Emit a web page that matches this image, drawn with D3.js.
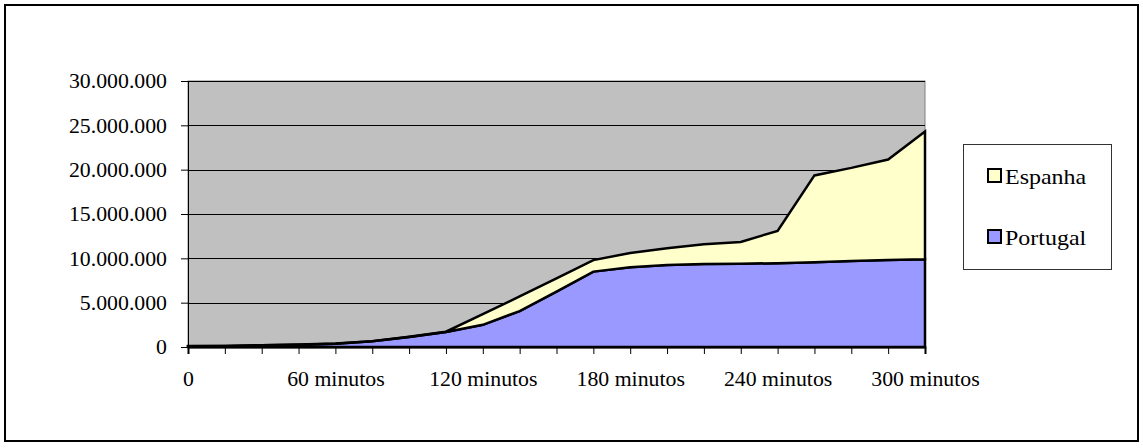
<!DOCTYPE html>
<html>
<head>
<meta charset="utf-8">
<script src="https://cdn.jsdelivr.net/npm/d3@7"></script>
<style>
  html, body { margin: 0; padding: 0; background: #fff; }
  svg { display: block; }
  text { font-family: "Liberation Serif", "Times New Roman", serif; fill: #000; }
</style>
</head>
<body>
<svg id="chart" width="1143" height="448"></svg>
<script>
// Minutes since start (one category every 15 minutes)
const minutes = [0, 15, 30, 45, 60, 75, 90, 105, 120, 135, 150, 165, 180, 195, 210, 225, 240, 255, 270, 285, 300];

// Accumulated values per country
const portugal = [80000, 100000, 190000, 260000, 380000, 640000, 1130000, 1700000, 2500000, 4050000, 6250000,
                  8500000, 9000000, 9250000, 9350000, 9400000, 9450000, 9550000, 9700000, 9800000, 9900000];
const espanha  = [20000, 20000, 20000, 20000, 20000, 20000, 20000, 20000, 1200000, 1650000, 1500000,
                  1300000, 1600000, 1900000, 2250000, 2450000, 3650000, 9800000, 10500000, 11350000, 14400000];

const seriesNames = ["Portugal", "Espanha"];
const seriesColors = { Portugal: "#9999FF", Espanha: "#FFFFCC" };
const yTicks = [0, 5000000, 10000000, 15000000, 20000000, 25000000, 30000000];

const svg = d3.select("#chart");
const stretch = 1.09; // horizontal widening of the serif glyphs

const plot = { left: 188, right: 925, top: 81, bottom: 347 };

const rows = minutes.map((m, i) => ({ m, Portugal: portugal[i], Espanha: espanha[i] }));

const x = d3.scalePoint().domain(minutes).range([plot.left, plot.right]);
const y = d3.scaleLinear().domain([0, 30000000]).range([plot.bottom, plot.top]);

const pt = d3.formatLocale({ decimal: ",", thousands: ".", grouping: [3], currency: ["", ""] });
const fmt = pt.format(",");

// Outer frame
svg.append("rect")
  .attr("x", 5).attr("y", 5).attr("width", 1133).attr("height", 436)
  .attr("fill", "#fff").attr("stroke", "#000").attr("stroke-width", 2);

// Plot background
svg.append("rect")
  .attr("x", plot.left).attr("y", plot.top)
  .attr("width", plot.right - plot.left).attr("height", plot.bottom - plot.top)
  .attr("fill", "#C0C0C0").attr("stroke", "#808080").attr("stroke-width", 1);

// Horizontal gridlines
svg.append("g").selectAll("line").data(yTicks.filter(v => v > 0)).join("line")
  .attr("x1", plot.left).attr("x2", plot.right)
  .attr("y1", d => Math.round(y(d)) + 0.5).attr("y2", d => Math.round(y(d)) + 0.5)
  .attr("stroke", "#000").attr("stroke-width", 1);

// Stacked areas
const stack = d3.stack().keys(seriesNames);
const layers = stack(rows);
const area = d3.area()
  .x(d => x(d.data.m))
  .y0(d => y(d[0]))
  .y1(d => y(d[1]));

svg.append("g").selectAll("path").data(layers).join("path")
  .attr("d", d => area(d) + "Z")
  .attr("fill", d => seriesColors[d.key])
  .attr("stroke", "#000")
  .attr("stroke-width", 2.5)
  .attr("stroke-linejoin", "miter");

// Y axis
const yAxis = svg.append("g")
  .attr("transform", `translate(${plot.left},0)`)
  .call(d3.axisLeft(y).tickValues(yTicks).tickSize(7).tickPadding(14).tickFormat(fmt));
yAxis.select(".domain").attr("stroke", "#000").attr("stroke-width", 1);
yAxis.selectAll(".tick line").attr("stroke", "#000");
yAxis.selectAll(".tick text")
  .attr("font-size", 20)
  .attr("font-family", "Liberation Serif")
  .attr("dy", null)
  .attr("dominant-baseline", "central")
  .each(function () {
    const t = d3.select(this);
    const tx = +t.attr("x");
    t.attr("x", tx / stretch).attr("transform", `scale(${stretch},1)`);
  });

// X axis
const xAxis = svg.append("g")
  .attr("transform", `translate(0,${plot.bottom})`)
  .call(d3.axisBottom(x).tickSize(7).tickPadding(0)
    .tickFormat(m => m % 60 === 0 ? (m === 0 ? "0" : `${m} minutos`) : ""));
xAxis.select(".domain").attr("stroke", "#000").attr("stroke-width", 2);
xAxis.selectAll(".tick line").attr("stroke", "#000");
xAxis.selectAll(".tick text")
  .attr("font-size", 20)
  .attr("font-family", "Liberation Serif")
  .attr("y", 39)
  .attr("dy", null)
  .attr("transform", `scale(${stretch},1)`);

// Legend
const legend = svg.append("g");
legend.append("rect")
  .attr("x", 963.5).attr("y", 144.5).attr("width", 148).attr("height", 125)
  .attr("fill", "#fff").attr("stroke", "#333").attr("stroke-width", 1);

const legendItems = ["Espanha", "Portugal"];
legendItems.forEach((name, i) => {
  const cy = 176 + i * 61;
  legend.append("rect")
    .attr("x", 988).attr("y", cy - 7).attr("width", 13).attr("height", 13)
    .attr("fill", seriesColors[name]).attr("stroke", "#000").attr("stroke-width", 2);
  legend.append("text")
    .attr("x", 1005 / stretch).attr("y", cy + 8)
    .attr("transform", `scale(${stretch},1)`)
    .attr("font-size", 22)
    .text(name);
});
</script>
</body>
</html>
